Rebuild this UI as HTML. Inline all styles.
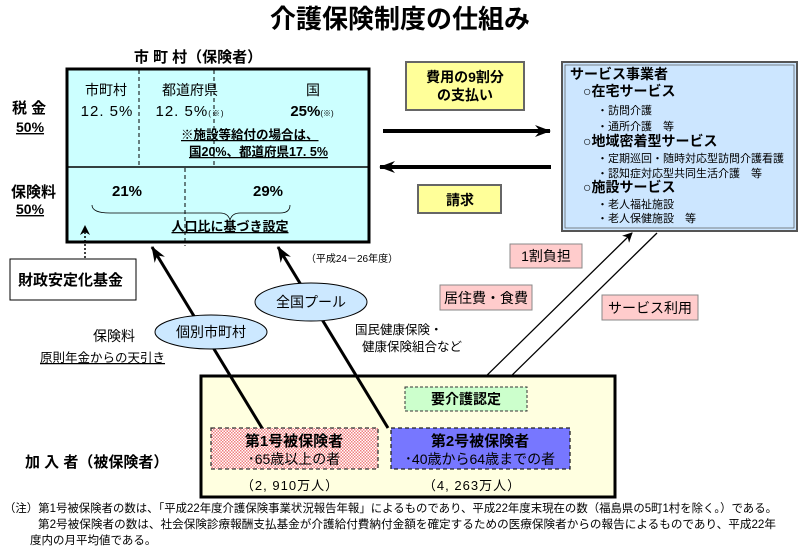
<!DOCTYPE html>
<html><head><meta charset="utf-8"><style>
html,body{margin:0;padding:0;background:#fff;}
svg{display:block;}
text{font-family:"Liberation Sans","Noto Sans CJK JP",sans-serif;fill:#000;}
.b{font-weight:bold;}
</style></head><body>
<svg width="800" height="554" viewBox="0 0 800 554" xmlns="http://www.w3.org/2000/svg">
<defs>
<pattern id="dots" width="3" height="3" patternUnits="userSpaceOnUse"><rect width="3" height="3" fill="#fff"/><rect width="1.5" height="1.5" fill="#f08080"/><rect x="1.5" y="1.5" width="1.5" height="1.5" fill="#f08080"/></pattern>
<marker id="ah" markerWidth="10" markerHeight="10" refX="9" refY="5" orient="auto" markerUnits="userSpaceOnUse"><path d="M0,0 L10,5 L0,10 L3,5z" fill="#000"/></marker>
<marker id="ahb" markerWidth="16" markerHeight="12" refX="15" refY="6" orient="auto" markerUnits="userSpaceOnUse"><path d="M0,0 L16,6 L0,12 L5,6z" fill="#000"/></marker>
</defs>
<text x="400" y="28" font-size="26" text-anchor="middle" class="b">介護保険制度の仕組み</text>
<text x="198" y="62" font-size="15" text-anchor="middle" class="b">市 町 村（保険者）</text>

<rect x="67" y="69" width="302" height="173" fill="#ccffff" stroke="#000" stroke-width="3"/>
<line x1="67" y1="167" x2="369" y2="167" stroke="#000" stroke-width="1.5"/>
<line x1="139" y1="70" x2="139" y2="166" stroke="#000" stroke-dasharray="4,3"/>
<line x1="214" y1="70" x2="214" y2="166" stroke="#000" stroke-dasharray="4,3"/>
<line x1="185" y1="168" x2="185" y2="246" stroke="#000" stroke-dasharray="4,3"/>
<text x="106" y="95" font-size="14" text-anchor="middle">市町村</text>
<text x="107" y="116" font-size="15" text-anchor="middle" letter-spacing="1">12. 5%</text>
<text x="190" y="95" font-size="14" text-anchor="middle">都道府県</text>
<text x="190" y="116" font-size="15" text-anchor="middle" letter-spacing="1">12. 5%<tspan font-size="8">(※)</tspan></text>
<text x="313" y="95" font-size="14" text-anchor="middle">国</text>
<text x="312" y="116" font-size="15" text-anchor="middle" class="b">25%<tspan font-size="8" font-weight="normal">(※)</tspan></text>
<text x="181" y="139" font-size="12.5" class="b" text-decoration="underline">※施設等給付の場合は、</text>
<text x="189" y="156" font-size="12.5" class="b" text-decoration="underline">国20%、都道府県17. 5%</text>
<text x="127" y="196" font-size="15" text-anchor="middle" class="b">21%</text>
<text x="268" y="196" font-size="15" text-anchor="middle" class="b">29%</text>
<path d="M92,205 Q92,213 110,213 L220,213 Q228,213 230,220 Q232,213 240,213 L280,213 Q290,213 290,205" fill="none" stroke="#000" stroke-width="0.8"/>
<text x="230" y="231" font-size="13" text-anchor="middle" class="b" text-decoration="underline">人口比に基づき設定</text>

<text x="12" y="113" font-size="15" class="b">税  金</text>
<text x="16" y="132" font-size="14" class="b" text-decoration="underline">50%</text>
<text x="11" y="197" font-size="15" class="b">保険料</text>
<text x="16" y="214" font-size="14" class="b" text-decoration="underline">50%</text>

<line x1="85" y1="258" x2="85" y2="226" stroke="#000" stroke-width="1.5" stroke-dasharray="2,2" marker-end="url(#ah)"/>
<rect x="10" y="259" width="126" height="41" fill="#fff" stroke="#000"/>
<text x="18" y="285" font-size="15" class="b">財政安定化基金</text>

<rect x="406" y="62" width="118" height="48" fill="#ffff99" stroke="#666" stroke-width="2"/>
<text x="465" y="82" font-size="14" text-anchor="middle" class="b">費用の9割分</text>
<text x="465" y="100" font-size="14" text-anchor="middle" class="b">の支払い</text>
<rect x="418" y="185" width="83" height="28" fill="#ffff99" stroke="#666" stroke-width="2"/>
<text x="460" y="205" font-size="14" text-anchor="middle" class="b">請求</text>
<line x1="383" y1="131" x2="550" y2="131" stroke="#000" stroke-width="4" marker-end="url(#ahb)"/>
<line x1="551" y1="167" x2="380" y2="167" stroke="#000" stroke-width="4" marker-end="url(#ahb)"/>

<rect x="562" y="62" width="235" height="169" fill="#cce6ff" stroke="#555" stroke-width="2"/>
<rect x="565" y="65" width="229" height="163" fill="none" stroke="#555" stroke-width="0.7"/>
<g font-size="14">
<text x="570" y="79" class="b">サービス事業者</text>
<text x="583" y="96" class="b">○在宅サービス</text>
<text x="583" y="146" class="b">○地域密着型サービス</text>
<text x="583" y="192" class="b">○施設サービス</text>
</g>
<g font-size="11">
<text x="597" y="114">・訪問介護</text>
<text x="597" y="130">・通所介護　等</text>
<text x="597" y="162">・定期巡回・随時対応型訪問介護看護</text>
<text x="597" y="177">・認知症対応型共同生活介護　等</text>
<text x="597" y="208">・老人福祉施設</text>
<text x="597" y="222">・老人保健施設　等</text>
</g>

<rect x="510" y="244" width="72" height="24" fill="#ffcccc" stroke="#888"/>
<text x="546" y="261" font-size="14" text-anchor="middle">1割負担</text>
<rect x="440" y="285" width="92" height="25" fill="#ffcccc" stroke="#888"/>
<text x="486" y="303" font-size="14" text-anchor="middle">居住費・食費</text>
<rect x="602" y="295" width="96" height="25" fill="#ffcccc" stroke="#888"/>
<text x="650" y="313" font-size="14" text-anchor="middle">サービス利用</text>

<line x1="476" y1="386" x2="632" y2="233" stroke="#000" stroke-width="1.3" marker-end="url(#ah)"/>
<line x1="657" y1="233" x2="501" y2="386" stroke="#000" stroke-width="1.3" marker-end="url(#ah)"/>

<rect x="201" y="376" width="414" height="121" fill="#ffffe0" stroke="#000" stroke-width="3"/>
<rect x="405" y="387" width="122" height="24" fill="#ccffcc" stroke="#333" stroke-dasharray="3,2"/>
<text x="466" y="404" font-size="14" text-anchor="middle" class="b">要介護認定</text>
<rect x="211" y="428" width="167" height="41" fill="url(#dots)" stroke="#333" stroke-width="1.3" stroke-dasharray="4,3"/>
<text x="294" y="446" font-size="15" text-anchor="middle" class="b">第1号被保険者</text>
<text x="294" y="464" font-size="14" text-anchor="middle">･65歳以上の者</text>
<rect x="391" y="428" width="179" height="41" fill="#7777ff" stroke="#222" stroke-width="1.3" stroke-dasharray="4,3"/>
<text x="480" y="446" font-size="15" text-anchor="middle" class="b">第2号被保険者</text>
<text x="480" y="464" font-size="14" text-anchor="middle">･40歳から64歳までの者</text>
<text x="290" y="490" font-size="13" text-anchor="middle" letter-spacing="1">（2, 910万人）</text>
<text x="472" y="490" font-size="13" text-anchor="middle" letter-spacing="1">（4, 263万人）</text>
<text x="25" y="467" font-size="15" class="b">加 入 者（被保険者）</text>

<line x1="262" y1="428" x2="152" y2="247" stroke="#000" stroke-width="3" marker-end="url(#ahb)"/>
<line x1="388" y1="428" x2="278" y2="247" stroke="#000" stroke-width="3" marker-end="url(#ahb)"/>
<ellipse cx="211" cy="332" rx="56" ry="17" fill="#cce8ff" stroke="#000"/>
<text x="211" y="337" font-size="14" text-anchor="middle">個別市町村</text>
<ellipse cx="311" cy="302" rx="56" ry="19" fill="#cce8ff" stroke="#000"/>
<text x="311" y="307" font-size="14" text-anchor="middle">全国プール</text>
<text x="352" y="262" font-size="10" text-anchor="middle">（平成24－26年度）</text>
<text x="114" y="341" font-size="14" text-anchor="middle">保険料</text>
<text x="40" y="362" font-size="12.5" text-decoration="underline">原則年金からの天引き</text>
<text x="355" y="334" font-size="12.5">国民健康保険・</text>
<text x="362" y="351" font-size="12.5">健康保険組合など</text>

<g font-size="11.5">
<text x="4" y="512" textLength="773" lengthAdjust="spacingAndGlyphs">（注）第1号被保険者の数は、「平成22年度介護保険事業状況報告年報」によるものであり、平成22年度末現在の数（福島県の5町1村を除く。）である。</text>
<text x="38" y="528" textLength="738" lengthAdjust="spacingAndGlyphs">第2号被保険者の数は、社会保険診療報酬支払基金が介護給付費納付金額を確定するための医療保険者からの報告によるものであり、平成22年</text>
<text x="30" y="544">度内の月平均値である。</text>
</g>
</svg>
</body></html>
